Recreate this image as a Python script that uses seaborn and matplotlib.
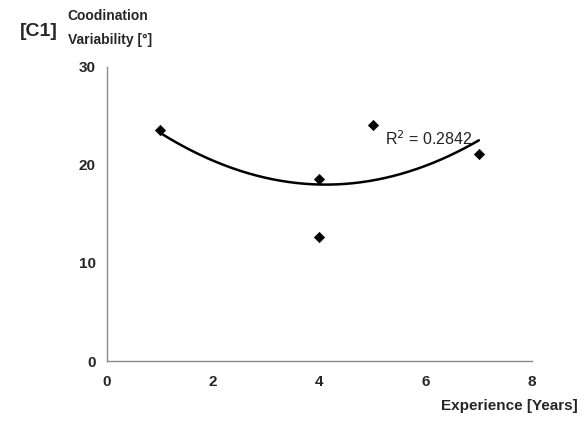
import numpy as np
import pandas as pd
import matplotlib
matplotlib.use("Agg")
import matplotlib.pyplot as plt
import seaborn as sns

# Data
experience = [1, 4, 4, 5, 7]
variability = [23.6, 18.6, 12.6, 24.1, 21.1]
# Quadratic trendline coefficients (a*x^2 + b*x + c)
trend_coef = [0.544, -4.48, 27.22]
r2_label = "R$^2$ = 0.2842"
x_ticks = [0, 2, 4, 6, 8]
y_ticks = [0, 10, 20, 30]

sns.set_theme(style="white")
fam = ["Liberation Sans Narrow", "Liberation Sans", "DejaVu Sans"]
plt.rcParams["font.family"] = fam

fig = plt.figure(figsize=(5.84, 4.21), dpi=100)
ax = fig.add_axes([0.183, 0.1425, 0.728, 0.6985])

df = pd.DataFrame({"x": experience, "y": variability})
xs = np.linspace(min(experience), max(experience), 200)
trend = pd.DataFrame({"x": xs, "y": np.polyval(trend_coef, xs)})
sns.lineplot(data=trend, x="x", y="y", ax=ax, color="black", linewidth=1.8)
sns.scatterplot(data=df, x="x", y="y", ax=ax, marker="D", s=28,
                color="black", edgecolor="black", zorder=5)

ax.set_xlim(0, 8)
ax.set_ylim(0, 30)
ax.set_xticks(x_ticks)
ax.set_yticks(y_ticks)
ax.set_xlabel("")
ax.set_ylabel("")
for s in ["top", "right"]:
    ax.spines[s].set_visible(False)
for s in ["left", "bottom"]:
    ax.spines[s].set_color("#8a8a8a")
    ax.spines[s].set_linewidth(1.0)
ax.tick_params(axis="both", direction="out", length=4, width=1,
               color="#8a8a8a", labelsize=11)
ax.tick_params(axis="y", pad=4)
ax.tick_params(axis="x", pad=6)
for lab in ax.get_xticklabels() + ax.get_yticklabels():
    lab.set_fontweight("bold")

ax.text(5.24, 22.0, r2_label, fontsize=11.5, color="#222222")

fig.text(0.034, 0.924, "[C1]", fontsize=14, fontweight="bold", ha="left", va="center")
fig.text(0.116, 0.962, "Coodination", fontsize=10, fontweight="bold", ha="left", va="center")
fig.text(0.116, 0.905, "Variability [°]", fontsize=10, fontweight="bold", ha="left", va="center")
fig.text(0.99, 0.035, "Experience [Years]", fontsize=11, fontweight="bold", ha="right", va="center")

fig.savefig("out.png", dpi=100)
